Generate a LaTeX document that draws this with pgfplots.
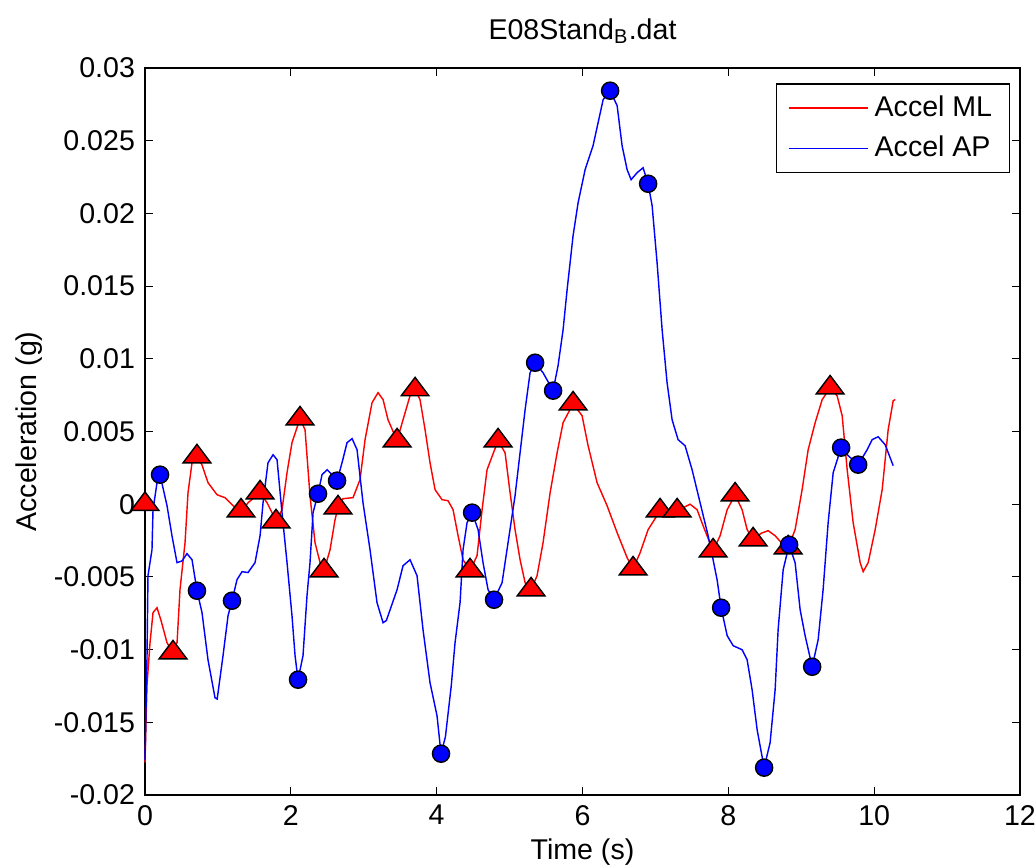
\documentclass[border=0pt]{standalone}
\usepackage{fontspec}
\setmainfont{Liberation Sans}
\usepackage{pgfplots}
\pgfplotsset{compat=1.18}

\begin{document}
\begin{tikzpicture}
\path[use as bounding box] (-50.75pt,-24.85pt) rectangle (311.85pt,278.25pt);
\begin{axis}[
  scale only axis,
  width=306.25pt, height=254.45pt,
  xmin=0, xmax=12, ymin=-0.02, ymax=0.03,
  xtick={0,2,...,12},
  ytick={-0.02,-0.015,-0.01,-0.005,0,0.005,0.01,0.015,0.02,0.025,0.03},
  yticklabels={-0.02,-0.015,-0.01,-0.005,0,0.005,0.01,0.015,0.02,0.025,0.03},
  scaled y ticks=false,
  /pgf/number format/assume math mode=true,
  tick align=inside,
  major tick length=2.8pt,
  tick style={black, line width=0.4pt},
  axis line style={line width=0.5pt},
  font=\fontsize{10}{12}\selectfont,
  tick label style={font=\fontsize{10}{12}\selectfont},
  title={E08Stand\textsubscript{B}.dat},
  title style={yshift=-1pt},
  xlabel={Time (s)},
  ylabel={Acceleration (g)},
  xlabel style={yshift=2pt},
  ylabel style={yshift=-3pt},
  clip=false,
  legend style={at={(0.9886,0.979)}, anchor=north east, draw=black,
    line width=0.5pt, font=\fontsize{10}{12}\selectfont,
    row sep=1.5pt, inner xsep=4pt, inner ysep=2pt},
  legend cell align=left,
  legend image code/.code={\draw[#1] (0cm,0cm) -- (0.98cm,0cm);},
]
% Accel ML
\addplot[red, line width=0.5pt] coordinates {
(0,-0.01778) (0.027,-0.01248) (0.069,-0.00953) (0.110,-0.00746) (0.165,-0.00712)
(0.220,-0.0080) (0.302,-0.00953) (0.384,-0.01021) (0.440,-0.0095) (0.480,-0.00588)
(0.549,-0.00265) (0.590,0.00079) (0.645,0.00285) (0.713,0.00327) (0.782,0.0027)
(0.864,0.00148) (0.988,0.00065) (1.097,0.00045) (1.207,-0.00010) (1.331,-0.00045)
(1.413,0.00010) (1.509,0.0005) (1.578,0.00079) (1.674,0.0001) (1.742,-0.00058)
(1.797,-0.00120) (1.879,-0.00038) (1.948,0.00217) (2.016,0.00423) (2.126,0.00588)
(2.195,0.00512) (2.263,0.00058) (2.332,-0.00265) (2.401,-0.00402) (2.455,-0.00457)
(2.538,-0.00313) (2.606,-0.00107) (2.647,-0.00024) (2.716,0.00038) (2.853,0.00045)
(2.949,0.00169) (3.018,0.00444) (3.114,0.00698) (3.196,0.00767) (3.265,0.00719)
(3.333,0.00581) (3.457,0.00437) (3.539,0.00581) (3.635,0.00746) (3.704,0.00788)
(3.772,0.00719) (3.841,0.00512) (3.909,0.00285) (3.978,0.00100) (4.074,0.00031)
(4.156,0.00024) (4.225,-0.00038) (4.294,-0.00217) (4.362,-0.00382) (4.458,-0.00457)
(4.554,-0.00354) (4.623,-0.00038) (4.691,0.00237) (4.842,0.00437) (4.938,0.00354)
(5.007,0.00079) (5.075,-0.00175) (5.144,-0.00382) (5.213,-0.00540) (5.295,-0.00588)
(5.377,-0.00492) (5.459,-0.00265) (5.556,0.00079) (5.652,0.00354) (5.734,0.00561)
(5.871,0.00691) (5.994,0.00609) (6.077,0.00402) (6.200,0.00148) (6.337,-0.00010)
(6.475,-0.00196) (6.612,-0.00368) (6.694,-0.00444) (6.790,-0.00334) (6.900,-0.00175)
(7.064,-0.00045) (7.160,-0.00055) (7.298,-0.00045) (7.476,0.00000) (7.572,-0.00038)
(7.654,-0.00148) (7.791,-0.00320) (7.887,-0.00217) (7.984,-0.00038) (8.093,0.00065)
(8.189,-0.00038) (8.258,-0.00175) (8.340,-0.00244) (8.450,-0.0020) (8.546,-0.00182)
(8.642,-0.00217) (8.752,-0.00279) (8.820,-0.00299) (8.916,-0.00175) (9.012,0.00100)
(9.095,0.00375) (9.191,0.00561) (9.287,0.00719) (9.396,0.00801) (9.492,0.00746)
(9.561,0.00609) (9.630,0.00237) (9.712,-0.00127) (9.808,-0.00402) (9.849,-0.00464)
(9.918,-0.00402) (10.014,-0.00175) (10.110,0.00100) (10.192,0.00512) (10.261,0.00712)
(10.29,0.0072)
};
\addlegendentry{Accel ML}
% Accel AP
\addplot[blue, line width=0.5pt] coordinates {
(0,-0.0176) (0.027,-0.0107) (0.041,-0.00492) (0.096,-0.00313) (0.110,-0.00038)
(0.165,0.00148) (0.206,0.00203) (0.302,-0.00010) (0.370,-0.00217) (0.439,-0.00402)
(0.508,-0.00390) (0.576,-0.00340) (0.645,-0.00382) (0.713,-0.00595) (0.782,-0.00746)
(0.864,-0.01070) (0.960,-0.01331) (0.990,-0.0134) (1.070,-0.01042) (1.139,-0.00767)
(1.193,-0.00664) (1.262,-0.00519) (1.331,-0.00464) (1.413,-0.00470) (1.509,-0.00402)
(1.578,-0.00217) (1.619,0.0001) (1.687,0.00285) (1.756,0.00340) (1.811,0.00306)
(1.879,-0.00058) (1.948,-0.00402) (2.016,-0.00767) (2.058,-0.01042) (2.099,-0.01207)
(2.167,-0.01042) (2.222,-0.00629) (2.263,-0.00402) (2.305,-0.00058) (2.373,0.00072)
(2.428,0.00203) (2.497,0.00237) (2.550,0.0021) (2.634,0.00162) (2.702,0.00285)
(2.771,0.00423) (2.840,0.00451) (2.908,0.00375) (2.990,0.0001) (3.086,-0.00313)
(3.182,-0.00677) (3.265,-0.00815) (3.310,-0.0080) (3.457,-0.00588) (3.539,-0.00423)
(3.635,-0.00382) (3.731,-0.00492) (3.813,-0.00863) (3.909,-0.01228) (4.005,-0.01455)
(4.060,-0.01716) (4.120,-0.0160) (4.200,-0.0125) (4.252,-0.00953) (4.321,-0.00677)
(4.362,-0.00313) (4.417,-0.00127) (4.486,-0.00058) (4.568,-0.00175) (4.636,-0.00402)
(4.705,-0.00588) (4.787,-0.00657) (4.897,-0.00540) (4.979,-0.00265) (5.075,0.00058)
(5.144,0.00354) (5.213,0.00650) (5.281,0.00904) (5.350,0.00973) (5.459,0.00904)
(5.597,0.00781) (5.665,0.00953) (5.734,0.0120) (5.789,0.01475) (5.871,0.01847)
(5.940,0.02074) (6.036,0.02301) (6.145,0.02466) (6.214,0.02624) (6.283,0.02782)
(6.379,0.02844) (6.475,0.02741) (6.543,0.02466) (6.612,0.02301) (6.667,0.02232)
(6.749,0.02280) (6.831,0.02314) (6.900,0.02204) (6.955,0.02053) (7.023,0.01661)
(7.092,0.01200) (7.160,0.00836) (7.229,0.00581) (7.311,0.00444) (7.407,0.00402)
(7.503,0.00237) (7.613,0.0001) (7.723,-0.00217) (7.791,-0.00382) (7.846,-0.00519)
(7.901,-0.00712) (7.984,-0.00904) (8.066,-0.00973) (8.189,-0.01001) (8.258,-0.01070)
(8.326,-0.01276) (8.395,-0.01551) (8.491,-0.01812) (8.573,-0.01640) (8.642,-0.01276)
(8.683,-0.00863) (8.752,-0.00451) (8.834,-0.00279) (8.916,-0.00402) (8.985,-0.00726)
(9.053,-0.00904) (9.150,-0.01118) (9.232,-0.00932) (9.300,-0.00588) (9.369,-0.00127)
(9.438,0.00217) (9.547,0.00389) (9.643,0.00334) (9.781,0.00272) (9.904,0.00375)
(9.973,0.00444) (10.055,0.00464) (10.151,0.00409) (10.261,0.00265)
};
\addlegendentry{Accel AP}
% ML peaks / valleys
\addplot[only marks, mark=triangle*, mark size=4.3pt,
  mark options={fill=red, draw=black, line width=0.5pt, xscale=1.3}, forget plot] coordinates {
(0,0) (0.384,-0.01021) (0.713,0.00327) (1.317,-0.00045) (1.578,0.00079)
(1.797,-0.00120) (2.126,0.00588) (2.455,-0.00457) (2.647,-0.00024) (3.457,0.00437)
(3.704,0.00788) (4.458,-0.00457) (4.842,0.00437) (5.295,-0.00588) (5.871,0.00691)
(6.694,-0.00444) (7.064,-0.00045) (7.298,-0.00045) (7.791,-0.00320) (8.093,0.00065)
(8.340,-0.00244) (8.820,-0.00299) (9.396,0.00801)
};
% AP peaks / valleys
\addplot[only marks, mark=*, mark size=3pt,
  mark options={fill=blue, draw=black, line width=0.5pt}, forget plot] coordinates {
(0.206,0.00203) (0.713,-0.00595) (1.193,-0.00664) (2.099,-0.01207) (2.373,0.00072)
(2.634,0.00162) (4.060,-0.01716) (4.486,-0.00058) (4.787,-0.00657) (5.350,0.00973)
(5.597,0.00781) (6.379,0.02844) (6.900,0.02204) (7.901,-0.00712) (8.491,-0.01812)
(8.834,-0.00279) (9.150,-0.01118) (9.547,0.00389) (9.781,0.00272)
};
\end{axis}
\end{tikzpicture}
\end{document}
